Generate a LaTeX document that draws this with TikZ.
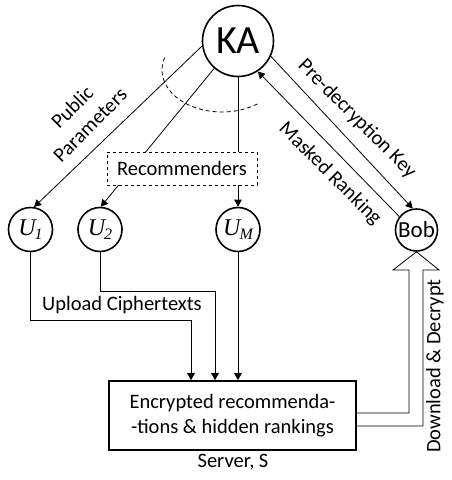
\documentclass[tikz,border=0pt]{standalone}
\usepackage{fontspec}
\setmainfont{Carlito}
\newfontfamily\tms{Liberation Serif}
\usetikzlibrary{arrows.meta}
\newcommand{\ulab}[1]{{\tms\fontsize{24}{24}\selectfont\itshape U\kern-1pt\raisebox{-4pt}{\fontsize{16}{16}\selectfont #1}}}
\begin{document}
\begin{tikzpicture}[x=1pt,y=-1pt,
  every node/.style={font=\fontsize{20.5}{25}\selectfont, inner sep=0pt},
  party/.style={circle, draw, line width=1.6pt, minimum size=44pt},
  conn/.style={line width=0.8pt},
  arr/.style={conn, -{Triangle[length=7pt,width=7.5pt]}},
  lbl/.style={align=center},
  recbox/.style={draw, dashed, line width=0.8pt, fill=white, minimum width=150pt, minimum height=33pt},
  srvbox/.style={draw, line width=1.6pt, align=center, minimum width=247pt, minimum height=69pt}]
\useasboundingbox (0,0) rectangle (452,480);
% parties
\node[party, minimum size=71pt, font=\fontsize{40}{40}\selectfont] (KA) at (238,41) {KA};
\node[party] (U1) at (30.5,229.5) {\ulab{1}};
\node[party] (U2) at (100,229.5) {\ulab{2}};
\node[party] (UM) at (238,229.5) {\ulab{M}};
\node[party, minimum size=42pt, font=\fontsize{23}{23}\selectfont] (Bob) at (416.5,230) {Bob};
\node[srvbox] (S) at (232.5,415.5) {Encrypted recommenda-\\-tions \& hidden rankings};
\node (SL) at (233,462) {Server, S};
% KA connectors
\draw[arr] (KA.188) -- (U1.81);
\draw[arr] (KA.229) -- (U2.88);
\draw[arr] (KA.south) -- (UM.north);
\draw[arr] (Bob.142) -- (KA.303);
\draw[arr] (KA.335) -- (Bob.100);
\node[recbox] (R) at (182,168.5) {Recommenders};
\draw[conn, dash pattern=on 4pt off 3pt] (222,70) ++(163:60pt and 42pt) arc[start angle=163, end angle=308, x radius=60pt, y radius=42pt];
% labels
\node[lbl, rotate=45] (PP) at (81,116) {Public\\Parameters};
\node[rotate=-45] (PK) at (357,119) {Pre-decryption Key};
\node[rotate=-45] (MR) at (330,174) {Masked Ranking};
\node[rotate=90] (DD) at (435,366) {Download \& Decrypt};
\node (UC) at (122,305) {Upload Ciphertexts};
% uploads
\draw[arr] (U1.south) -- (U1.south |- 0,320) -| ([xshift=-41.5pt]S.north);
\draw[arr] (U2.south) -- (U2.south |- 0,291) -| ([xshift=-17.5pt]S.north);
\draw[arr] (UM.south) -- (UM.south |- S.north);
% download arrow
\draw[conn, line join=miter] (S.east |- 0,413) -- (409,413) -- (409,270) -- (393,270) -- (Bob.south) -- (439,270) -- (423,270) -- (423,426) -- (S.east |- 0,426);
\end{tikzpicture}
\end{document}
